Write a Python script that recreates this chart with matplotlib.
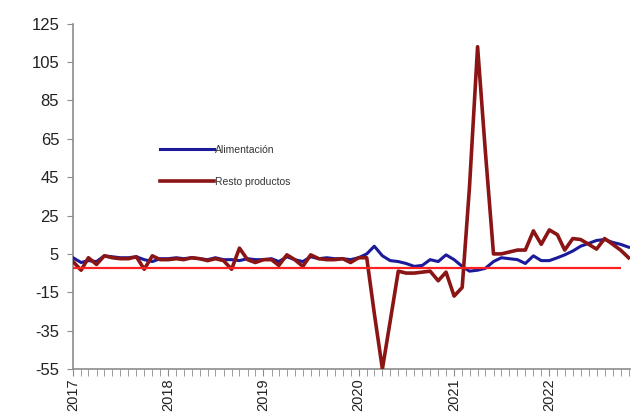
import matplotlib
matplotlib.use('Agg')
import matplotlib.pyplot as plt
import matplotlib.dates as mdates
import numpy as np
import pandas as pd

plt.rcParams['font.family'] = ['Liberation Sans', 'DejaVu Sans']
plt.rcParams['axes.unicode_minus'] = False

# monthly data, Jan 2017 - Nov 2022
dates = pd.date_range('2017-01-01', periods=71, freq='MS')

alimentacion = [3, 0.5, 1.5, 1, 4, 3.5, 3, 3, 3.5, 2, 1, 2.5,          # 2017
                2.5, 3, 2.5, 3, 2.5, 2, 3, 2, 2, 1.5, 2.5, 2,          # 2018
                2, 2.5, 1, 3.5, 2, 1, 3.5, 2.5, 3, 2.5, 2.5, 2,        # 2019
                3, 5, 9, 4, 1.5, 1, 0, -1.5, -1, 2, 1, 4.5,            # 2020
                2, -1.5, -4, -3.5, -2.5, 1, 3, 2.5, 2, 0, 4, 1.5,      # 2021
                1.5, 3, 4.5, 6.5, 9, 10.5, 12, 12.5, 11, 10, 8.5]      # 2022

resto = [1, -3.5, 3, -0.5, 4, 3, 2.5, 2.5, 3.5, -3, 4, 2,               # 2017
         2, 2.5, 2, 3, 2.5, 1.5, 2.5, 1.5, -3, 8, 2, 0.5,               # 2018
         2, 2, -1, 4.5, 2, -1.5, 4.5, 2.5, 2, 2, 2.5, 0.5,              # 2019
         3, 3, -26, -55, -30, -4, -5, -5, -4.5, -4, -9, -4.5,           # 2020
         -17, -12.5, 40, 113, 58, 5, 5, 6, 7, 7, 17, 10,                # 2021
         17.5, 15, 7, 13, 12.5, 10, 7.5, 13, 10, 7, 3]                  # 2022

ref_level = -2.5

fig = plt.figure(figsize=(6.35, 4.16), dpi=100)
ax = fig.add_axes([0.115, 0.113, 0.877, 0.83])

ax.plot(dates, alimentacion, color='#1a1a9a', lw=2.2, label='Alimentación', zorder=3)
ax.plot(dates, resto, color='#8b1515', lw=2.6, label='Resto productos', zorder=4)
ax.hlines(ref_level, dates[0], dates[-2], color='#ff2020', lw=1.6, zorder=5)

ax.set_ylim(-55, 125)
ax.set_yticks(np.arange(-55, 126, 20))
ax.set_xlim(dates[0], dates[-1] + pd.Timedelta(days=5))

ax.xaxis.set_major_locator(mdates.YearLocator())
ax.xaxis.set_major_formatter(mdates.DateFormatter('%Y'))
ax.xaxis.set_minor_locator(mdates.MonthLocator())
plt.setp(ax.get_xticklabels(), rotation=90, va='top', ha='center')

for s in ['top', 'right']:
    ax.spines[s].set_visible(False)
for s in ['left', 'bottom']:
    ax.spines[s].set_color('#8c8c8c')
    ax.spines[s].set_linewidth(1.2)

ax.tick_params(axis='y', labelsize=12, length=4, color='#8c8c8c', pad=6, labelcolor='#222222')
ax.tick_params(axis='x', which='major', labelsize=10.5, length=5, color='#8c8c8c', pad=2, labelcolor='#222222')
ax.tick_params(axis='x', which='minor', length=5, color='#8c8c8c')

leg = ax.legend(loc='upper left', bbox_to_anchor=(0.139, 0.676), frameon=False,
                fontsize=7.5, handlelength=5.2, handletextpad=0.1, labelspacing=2.1)
for t in leg.get_texts():
    t.set_color('#333333')

fig.savefig('out.png', dpi=100)
